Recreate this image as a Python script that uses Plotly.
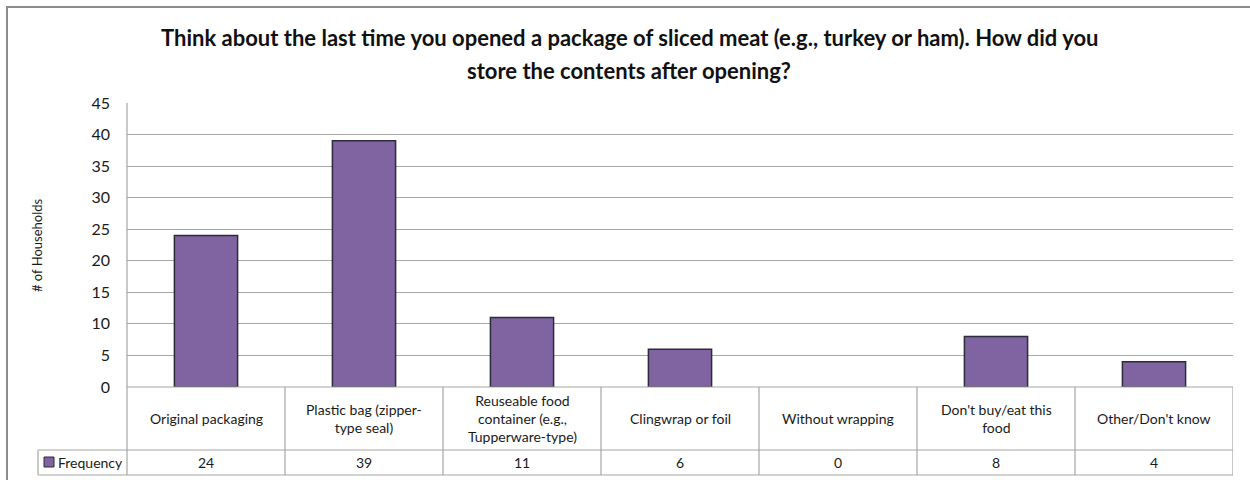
import plotly.graph_objects as go

categories = ["Original packaging", "Plastic bag (zipper-<br>type seal)",
              "Reuseable food<br>container (e.g.,<br>Tupperware-type)",
              "Clingwrap or foil", "Without wrapping",
              "Don't buy/eat this<br>food", "Other/Don't know"]
frequency = [24, 39, 11, 6, 0, 8, 4]
series_name = "Frequency"
title_lines = ["Think about the last time you opened a package of sliced meat (e.g., turkey or ham). How did you",
               "store the contents after opening?"]
y_title = "# of Households"

W, H = 1250, 480
L, R, T, B = 127, W - 1233, 103, H - 387
PW, PH = W - L - R, H - T - B
FONT = "Lato"
GRID = "#a6a6a6"
BAR = "#8064A2"
TXT = "#1a1a1a"

def px(x):
    return (x - L) / PW

def py(y):
    return (H - B - y) / PH

n = len(categories)
xs = list(range(n))

fig = go.Figure()
fig.add_trace(go.Bar(x=xs, y=frequency, width=0.4, name=series_name,
                     marker=dict(color=BAR, line=dict(color="#2b2b3a",
                                                      width=[1.5 if v else 0 for v in frequency])),
                     showlegend=False))

shapes = []
shapes.append(dict(type="rect", xref="paper", yref="paper", x0=px(7), x1=px(1262), y0=py(7), y1=py(492),
                   line=dict(color="#8c8c8c", width=2), layer="below"))
shapes.append(dict(type="line", xref="paper", yref="paper", x0=0, x1=0, y0=py(475), y1=1,
                   line=dict(color=GRID, width=1.2)))
for yy, x0 in [(387, L), (450, 38), (475, 38)]:
    shapes.append(dict(type="line", xref="paper", yref="paper", x0=px(x0), x1=1, y0=py(yy), y1=py(yy),
                       line=dict(color=GRID, width=1.2)))
for i in range(1, n + 1):
    shapes.append(dict(type="line", xref="x", yref="paper", x0=i - 0.5, x1=i - 0.5, y0=py(387), y1=py(475),
                       line=dict(color=GRID, width=1.2)))
shapes.append(dict(type="line", xref="paper", yref="paper", x0=px(38), x1=px(38), y0=py(450), y1=py(475),
                   line=dict(color=GRID, width=1.2)))
shapes.append(dict(type="rect", xref="paper", yref="paper", x0=px(44), x1=px(54), y0=py(457), y1=py(467),
                   fillcolor=BAR, line=dict(color="#2b2b3a", width=1)))

annotations = []
for i, (c, v) in enumerate(zip(categories, frequency)):
    annotations.append(dict(x=i, xref="x", y=py(418), yref="paper", text=c, showarrow=False,
                            xanchor="center", yanchor="middle",
                            font=dict(size=14, color=TXT, family=FONT), align="center"))
    annotations.append(dict(x=i, xref="x", y=py(462), yref="paper", text=str(v), showarrow=False,
                            xanchor="center", yanchor="middle",
                            font=dict(size=14, color=TXT, family=FONT)))
annotations.append(dict(x=px(56), xref="paper", y=py(462), yref="paper", text=series_name, showarrow=False,
                        xanchor="left", yanchor="middle", font=dict(size=14, color=TXT, family=FONT)))
for k, (line, yy) in enumerate(zip(title_lines, [38, 70])):
    annotations.append(dict(x=px(629), xref="paper", y=py(yy), yref="paper", text="<b>" + line + "</b>",
                            showarrow=False, xanchor="center", yanchor="middle",
                            font=dict(size=22, color="#111", family=FONT)))
annotations.append(dict(x=px(37), xref="paper", y=py(245), yref="paper", text=y_title, showarrow=False,
                        xanchor="center", yanchor="middle",
                        textangle=-90, font=dict(size=13, color=TXT, family=FONT)))

fig.update_layout(
    width=W, height=H, margin=dict(l=L, r=R, t=T, b=B),
    paper_bgcolor="white", plot_bgcolor="white",
    shapes=shapes, annotations=annotations,
    xaxis=dict(range=[-0.5, n - 0.5], showticklabels=False, showgrid=False, zeroline=False,
               showline=False, ticks="", fixedrange=True),
    yaxis=dict(range=[0, 45], dtick=5, showgrid=True, gridcolor=GRID, gridwidth=1.2,
               zeroline=False, showline=False, ticks="", ticklabelstandoff=16,
               tickfont=dict(size=16, color=TXT, family=FONT), fixedrange=True),
)

fig.write_html("out.html", config={"displayModeBar": False},
               post_script="document.body.style.margin='0';")
